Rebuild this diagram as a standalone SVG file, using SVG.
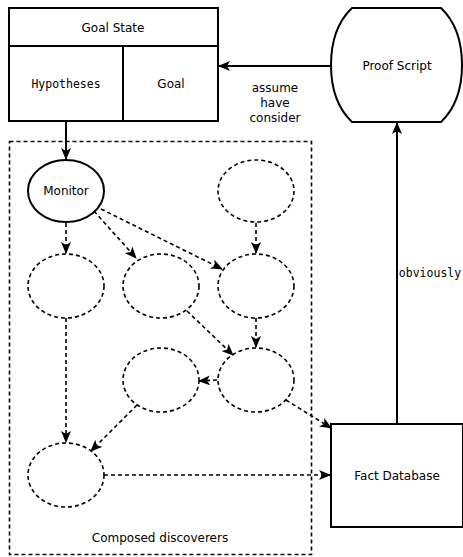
<svg xmlns="http://www.w3.org/2000/svg" width="463" height="557" viewBox="0 0 463 557">
<defs>
<marker id="ah" viewBox="0 0 12 10" refX="11" refY="5" markerWidth="12" markerHeight="10" markerUnits="userSpaceOnUse" orient="auto">
<path d="M0,0 L12,5 L0,10 L3,5 z" fill="#000"/>
</marker>
<style>
.t{font-family:"DejaVu Sans",sans-serif;font-size:12px;fill:#000;text-anchor:middle}
.m{font-family:"DejaVu Sans Mono",monospace;font-size:11.5px;fill:#000;text-anchor:middle}
.solid{fill:#fff;stroke:#000;stroke-width:2}
.dn{fill:#fff;stroke:#000;stroke-width:1.6;stroke-dasharray:4,3}
.e{stroke:#000;stroke-width:2;fill:none;marker-end:url(#ah)}
.de{stroke:#000;stroke-width:1.6;fill:none;stroke-dasharray:4,3;marker-end:url(#ah)}
</style>
</defs>
<rect width="463" height="557" fill="#fff"/>
<g id="container">
<rect x="9.5" y="141.5" width="302" height="413" fill="none" stroke="#000" stroke-width="1.6" stroke-dasharray="4,3"/>
<text class="t" x="160" y="542">Composed discoverers</text>
</g>
<g id="goalstate">
<rect class="solid" x="9" y="8" width="209" height="113"/>
<line x1="9" y1="46" x2="218" y2="46" stroke="#000" stroke-width="2"/>
<line x1="123" y1="46" x2="123" y2="121" stroke="#000" stroke-width="2"/>
<text class="t" x="113" y="32">Goal State</text>
<text class="m" x="66" y="88">Hypotheses</text>
<text class="t" x="171" y="88">Goal</text>
</g>
<g id="proofscript">
<path class="solid" d="M352,8 L441,8 Q462,28 462,65 Q462,102 441,122 L352,122 Q331,102 331,65 Q331,28 352,8 Z"/>
<text class="t" x="397" y="70">Proof Script</text>
</g>
<g id="factdb">
<rect class="solid" x="331" y="424" width="132" height="103"/>
<text class="t" x="397" y="480">Fact Database</text>
</g>
<g id="monitor">
<ellipse class="solid" cx="66" cy="191" rx="38" ry="31"/>
<text class="t" x="66" y="195">Monitor</text>
</g>
<g id="d1"><ellipse class="dn" cx="256" cy="191" rx="38" ry="31"/></g>
<g id="d2"><ellipse class="dn" cx="66" cy="286" rx="38" ry="32"/></g>
<g id="d3"><ellipse class="dn" cx="161" cy="286" rx="38" ry="32"/></g>
<g id="d4"><ellipse class="dn" cx="256" cy="286" rx="38" ry="32"/></g>
<g id="d5"><ellipse class="dn" cx="161" cy="380" rx="38" ry="32"/></g>
<g id="d6"><ellipse class="dn" cx="256" cy="380" rx="38" ry="32"/></g>
<g id="d7"><ellipse class="dn" cx="66" cy="475" rx="38" ry="32"/></g>
<g id="connectors">
<line class="e" x1="331" y1="66" x2="219" y2="66"/>
<line class="e" x1="397" y1="424" x2="397" y2="123"/>
<line class="e" x1="66" y1="121" x2="66" y2="159"/>
<line class="de" x1="66" y1="223" x2="66" y2="253"/>
<line class="de" x1="94" y1="211" x2="136" y2="258"/>
<line class="de" x1="101" y1="209" x2="222" y2="269"/>
<line class="de" x1="256" y1="223" x2="256" y2="253"/>
<line class="de" x1="187" y1="311" x2="233" y2="355"/>
<line class="de" x1="256" y1="318" x2="256" y2="347"/>
<line class="de" x1="217" y1="380" x2="199" y2="381"/>
<line class="de" x1="286" y1="400" x2="331" y2="428"/>
<line class="de" x1="137" y1="405" x2="91" y2="451"/>
<line class="de" x1="66" y1="318" x2="66" y2="442"/>
<line class="de" x1="104" y1="475" x2="330" y2="475"/>
<text class="t" x="275" y="92">assume</text>
<text class="t" x="275" y="107">have</text>
<text class="t" x="275" y="122">consider</text>
<text class="m" x="430" y="277">obviously</text>
</g>
</svg>
